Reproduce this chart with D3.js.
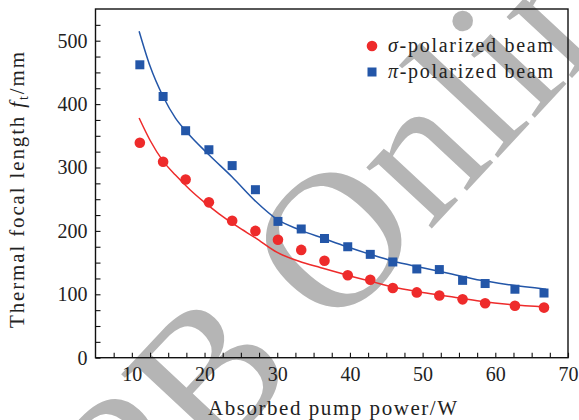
<!DOCTYPE html>
<html>
<head>
<meta charset="utf-8">
<script src="https://cdn.jsdelivr.net/npm/d3@7"></script>
<style>
  html, body { margin: 0; padding: 0; background: #fff; }
  svg { display: block; font-family: "Liberation Serif", "Times New Roman", serif; }
</style>
</head>
<body>
<svg id="chart" width="579" height="420"></svg>
<script>
// measured points (absorbed pump power, W)
const powerW = [11.1, 14.3, 17.4, 20.6, 23.8, 27.0, 30.1, 33.3, 36.5, 39.7, 42.8, 45.9, 49.2, 52.3, 55.5, 58.6, 62.7, 66.7];
const sigmaFocal = [339, 309, 281, 245, 216, 200, 186, 170, 153, 130, 123, 110, 103, 98, 92, 86, 82, 79];
const piFocal = [462, 412, 358, 328, 303, 265, 215, 203, 188, 175, 163, 151, 140, 139, 122, 117, 108, 102];

// fitted curves
const sigmaFitX = [11, 12.5, 14.3, 16, 18, 20, 22, 24.5, 27, 30, 33, 36, 40, 43, 46, 50, 54, 58, 62, 67];
const sigmaFitY = [378, 343, 310, 288, 265, 245, 227, 207, 189, 166, 152, 142, 129, 120, 111, 103, 96, 89, 84, 80];
const piFitX = [11, 12.5, 14.3, 16, 17.4, 20.6, 23.8, 27, 30, 33, 36.4, 39.6, 42.8, 46, 50, 54, 58, 62, 67];
const piFitY = [515, 460, 412, 378, 358, 320, 285, 247, 218, 202, 188, 175, 163, 152, 142, 132, 122, 115, 108];

const xTicks = d3.range(7.5, 70.1, 2.5);
const yTicks = d3.range(0, 526, 25);

const red = '#ee2b2b';
const blue = '#2356a8';

const svg = d3.select('#chart');
const plotLeft = 95.5, plotRight = 568, plotTop = 9, plotBottom = 357.7;

const x = d3.scaleLinear().domain([5, 70]).range([plotLeft, plotRight]);
const y = d3.scaleLinear().domain([0, 550]).range([plotBottom, plotTop]);

// watermark behind everything
svg.append('text')
  .attr('transform', 'translate(48,640) rotate(-47)')
  .attr('font-size', 195)
  .attr('fill', '#b5b5b5')
  .text('CPB Online');

// axes (ticks inward)
const xAxis = d3.axisBottom(x)
  .tickValues(xTicks)
  .tickSize(-5)
  .tickPadding(9)
  .tickFormat(d => d % 10 === 0 ? d : '');

const yAxis = d3.axisLeft(y)
  .tickValues(yTicks)
  .tickSize(-5)
  .tickPadding(8)
  .tickFormat(d => d % 100 === 0 ? d : '');

const gx = svg.append('g')
  .attr('transform', `translate(0,${plotBottom})`)
  .call(xAxis);
const gy = svg.append('g')
  .attr('transform', `translate(${plotLeft},0)`)
  .call(yAxis);

[gx, gy].forEach(g => {
  g.select('.domain').remove();
  g.selectAll('line').attr('stroke', '#111').attr('stroke-width', 1.1);
  g.selectAll('text')
    .attr('font-family', '"Liberation Serif", serif')
    .attr('font-size', 20)
    .attr('fill', '#222');
});

svg.append('rect')
  .attr('x', plotLeft)
  .attr('y', plotTop)
  .attr('width', plotRight - plotLeft)
  .attr('height', plotBottom - plotTop)
  .attr('fill', 'none')
  .attr('stroke', '#111')
  .attr('stroke-width', 1.4);

// axis titles
svg.append('text')
  .attr('x', 208)
  .attr('y', 415)
  .attr('font-size', 21)
  .attr('fill', '#222')
  .attr('textLength', 249)
  .text('Absorbed pump power/W');

const yTitle = svg.append('text')
  .attr('transform', 'translate(24,328) rotate(-90)')
  .attr('font-size', 21)
  .attr('fill', '#222')
  .attr('textLength', 276);
yTitle.append('tspan').text('Thermal focal length ');
yTitle.append('tspan').attr('font-style', 'italic').text('f');
yTitle.append('tspan').attr('font-size', 14).attr('dy', 4).text('t');
yTitle.append('tspan').attr('dy', -4).text('/mm');

// fit lines
const line = d3.line()
  .x(d => x(d[0]))
  .y(d => y(d[1]))
  .curve(d3.curveMonotoneX);

svg.append('path')
  .datum(piFitX.map((v, i) => [v, piFitY[i]]))
  .attr('d', line)
  .attr('fill', 'none')
  .attr('stroke', blue)
  .attr('stroke-width', 1.5);

svg.append('path')
  .datum(sigmaFitX.map((v, i) => [v, sigmaFitY[i]]))
  .attr('d', line)
  .attr('fill', 'none')
  .attr('stroke', red)
  .attr('stroke-width', 1.5);

// points
const sq = 9;
svg.append('g').selectAll('rect')
  .data(powerW.map((v, i) => [v, piFocal[i]]))
  .join('rect')
  .attr('x', d => x(d[0]) - sq / 2)
  .attr('y', d => y(d[1]) - sq / 2)
  .attr('width', sq)
  .attr('height', sq)
  .attr('fill', blue);

svg.append('g').selectAll('circle')
  .data(powerW.map((v, i) => [v, sigmaFocal[i]]))
  .join('circle')
  .attr('cx', d => x(d[0]))
  .attr('cy', d => y(d[1]))
  .attr('r', 5.3)
  .attr('fill', red);

// legend
const legend = svg.append('g').attr('transform', 'translate(372,46)');
legend.append('circle').attr('cx', 0).attr('cy', 0).attr('r', 5.3).attr('fill', red);
legend.append('rect').attr('x', -sq / 2).attr('y', 26 - sq / 2).attr('width', sq).attr('height', sq).attr('fill', blue);

const lab1 = legend.append('text').attr('x', 16).attr('y', 6).attr('font-size', 20).attr('fill', '#222').attr('textLength', 165);
lab1.append('tspan').attr('font-style', 'italic').text('σ');
lab1.append('tspan').text('-polarized beam');
const lab2 = legend.append('text').attr('x', 16).attr('y', 32).attr('font-size', 20).attr('fill', '#222').attr('textLength', 165);
lab2.append('tspan').attr('font-style', 'italic').text('π');
lab2.append('tspan').text('-polarized beam');
</script>
</body>
</html>
